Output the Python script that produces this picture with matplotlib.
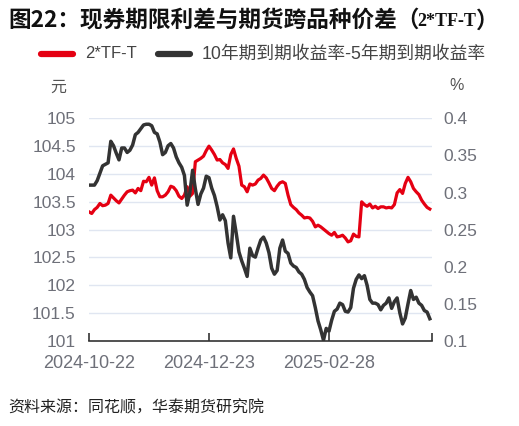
import matplotlib
matplotlib.use("Agg")
import matplotlib.pyplot as plt
from matplotlib.lines import Line2D
import numpy as np

# ---------------- data ----------------
tick_labels = ["2024-10-22", "2024-12-23", "2025-02-28"]
tick_index = [0, 44, 88]

spread_2tf_t = [
    103.32, 103.29, 103.36, 103.40, 103.47, 103.43, 103.44, 103.47, 103.62, 103.57,
    103.52, 103.48, 103.55, 103.62, 103.68, 103.70, 103.71, 103.66, 103.74, 103.70,
    103.87, 103.86, 103.94, 103.80, 103.93, 103.70, 103.59, 103.59, 103.62, 103.68,
    103.78, 103.76, 103.70, 103.60, 103.56, 103.62, 103.77, 103.60, 103.65, 104.22,
    104.25, 104.28, 104.32, 104.42, 104.50, 104.43, 104.35, 104.25, 104.26, 104.20,
    104.17, 104.10, 104.35, 104.45, 104.28, 104.14, 103.80, 103.77, 103.68, 103.82,
    103.80, 103.82, 103.89, 103.92, 103.98, 103.93, 103.84, 103.74, 103.70, 103.78,
    103.84, 103.86, 103.83, 103.62, 103.45, 103.40, 103.36, 103.30, 103.26, 103.21,
    103.22, 103.21, 103.15, 103.05, 103.08, 103.05, 103.01, 102.97, 102.93, 102.90,
    102.95, 102.87, 102.88, 102.90, 102.85, 102.78, 102.80, 102.92, 102.88, 102.87,
    103.50, 103.45, 103.42, 103.46, 103.39, 103.42, 103.38, 103.41, 103.41, 103.39,
    103.40, 103.39, 103.45, 103.66, 103.72, 103.65, 103.83, 103.94, 103.86, 103.74,
    103.68, 103.63, 103.53, 103.46, 103.40, 103.37,
]

yield_spread_10y_5y = [
    0.310, 0.310, 0.310, 0.316, 0.326, 0.336, 0.338, 0.340, 0.369, 0.363,
    0.353, 0.344, 0.360, 0.360, 0.354, 0.357, 0.364, 0.378, 0.381, 0.386,
    0.391, 0.392, 0.392, 0.390, 0.381, 0.379, 0.368, 0.351, 0.354, 0.363,
    0.366, 0.360, 0.348, 0.340, 0.334, 0.323, 0.283, 0.300, 0.330, 0.305,
    0.284, 0.298, 0.306, 0.322, 0.320, 0.306, 0.296, 0.281, 0.263, 0.270,
    0.262, 0.232, 0.212, 0.268, 0.245, 0.220, 0.208, 0.198, 0.187, 0.225,
    0.215, 0.213, 0.225, 0.236, 0.240, 0.232, 0.219, 0.198, 0.190, 0.195,
    0.225, 0.236, 0.221, 0.218, 0.205, 0.201, 0.199, 0.193, 0.190, 0.183,
    0.172, 0.166, 0.161, 0.145, 0.127, 0.115, 0.101, 0.117, 0.113, 0.128,
    0.140, 0.143, 0.151, 0.149, 0.140, 0.139, 0.145, 0.171, 0.183, 0.189,
    0.184, 0.188, 0.175, 0.156, 0.151, 0.151, 0.149, 0.142, 0.148, 0.151,
    0.158, 0.144, 0.153, 0.158, 0.138, 0.123, 0.131, 0.150, 0.168, 0.156,
    0.159, 0.151, 0.148, 0.141, 0.139, 0.130,
]

left_ticks = [101, 101.5, 102, 102.5, 103, 103.5, 104, 104.5, 105]
right_ticks = [0.1, 0.15, 0.2, 0.25, 0.3, 0.35, 0.4]

series_names = ["2*TF-T", "10年期到期收益率-5年期到期收益率"]

# ---------------- styling ----------------
W, H = 519, 426
RED = "#e50012"
DARK = "#333333"
GRID = "#e0e6f1"
TICKC = "#6e7079"
NUMFONT = ["Liberation Sans", "Noto Sans CJK SC"]
CJK = ["Noto Sans CJK SC", "DejaVu Sans"]

plt.rcParams["font.family"] = NUMFONT

fig = plt.figure(figsize=(W / 100, H / 100), dpi=100)
fx = lambda x: x / W
fy = lambda y: 1 - y / H

L, R, T, B = 89, 432, 118.3, 341
ax = fig.add_axes([fx(L), fy(B), fx(R) - fx(L), fy(T) - fy(B)])
ax2 = ax.twinx()

x = np.arange(len(spread_2tf_t))
ax.plot(x, spread_2tf_t, color=RED, lw=2.3, solid_joinstyle="round", zorder=3)
ax2.plot(x, yield_spread_10y_5y, color=DARK, lw=2.5, solid_joinstyle="round", zorder=3)

xmax = 125.8
ax.set_xlim(0, xmax)
ax.set_ylim(101, 105)
ax2.set_ylim(0.1, 0.4)

# grid lines (left axis)
for v in left_ticks[1:]:
    ax.axhline(v, color=GRID, lw=1.0, zorder=0)

for a in (ax, ax2):
    for s in a.spines.values():
        s.set_visible(False)
ax.spines["bottom"].set_visible(True)
ax.spines["bottom"].set_color(DARK)
ax.spines["bottom"].set_linewidth(1.2)

def fmt(v):
    s = ("%.2f" % v).rstrip("0").rstrip(".")
    return s

ax.set_yticks(left_ticks)
ax.set_yticklabels([fmt(v) for v in left_ticks])
ax2.set_yticks(right_ticks)
ax2.set_yticklabels([fmt(v) for v in right_ticks])
ax.tick_params(axis="y", length=0, pad=9.5, labelsize=12.5, labelcolor=TICKC)
ax2.tick_params(axis="y", length=0, pad=8, labelsize=12.5, labelcolor=TICKC)

ax.set_xticks(tick_index + [xmax])
ax.set_xticklabels(tick_labels + [""])
ax.tick_params(axis="x", direction="in", length=6, width=1.2, color=DARK,
               pad=10, labelsize=13, labelcolor=TICKC)

# axis unit labels
fig.text(fx(58), fy(87), "元", family=CJK, fontsize=11.5, color="#555555",
         ha="center", va="center")
fig.text(fx(457), fy(86), "%", family=NUMFONT, fontsize=11.5, color="#555555",
         ha="center", va="center")

# legend (manual)
ly = 54
fig.add_artist(Line2D([fx(41), fx(73)], [fy(ly), fy(ly)], color=RED, lw=4.5,
                      solid_capstyle="round", transform=fig.transFigure))
fig.text(fx(85), fy(ly), series_names[0], family=NUMFONT, fontsize=12,
         color="#444444", ha="left", va="center")
fig.add_artist(Line2D([fx(158), fx(190)], [fy(ly), fy(ly)], color=DARK, lw=4.5,
                      solid_capstyle="round", transform=fig.transFigure))
fig.text(fx(202), fy(ly), series_names[1], family=NUMFONT, fontsize=12.8,
         color="#444444", ha="left", va="center")

# title
ty = 21
t1 = fig.text(fx(8), fy(ty), "图22：现券期限利差与期货跨品种价差（", family=CJK,
              fontsize=16.3, fontweight="bold", color="#111111", ha="left", va="center")
fig.canvas.draw()
r = fig.canvas.get_renderer()
bb = t1.get_window_extent(r)
t2 = fig.text(bb.x1 / W - 0.004, fy(ty), "2*TF-T", family=["Liberation Serif"],
              fontsize=13, fontweight="bold", color="#111111", ha="left", va="center")
bb2 = t2.get_window_extent(r)
fig.text(bb2.x1 / W, fy(ty), "）", family=CJK, fontsize=16.3, fontweight="bold",
         color="#111111", ha="left", va="center")

# source
fig.text(fx(8), fy(408), "资料来源：同花顺，华泰期货研究院", family=CJK, fontsize=11.5,
         style="italic", color="#222222", ha="left", va="center")

fig.savefig("out.png", dpi=100)
